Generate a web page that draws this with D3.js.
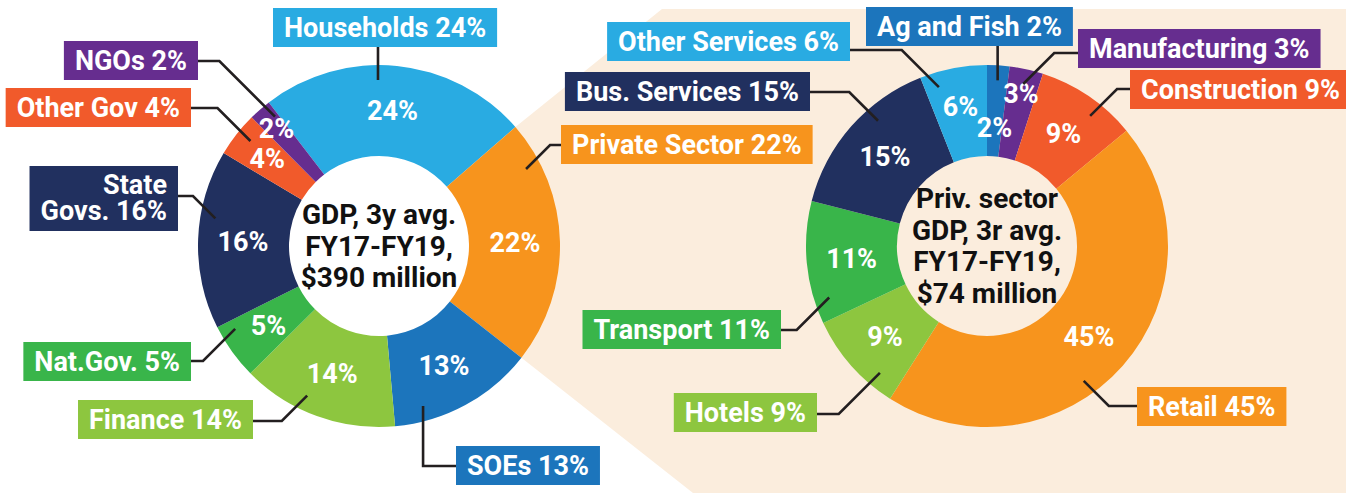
<!DOCTYPE html>
<html>
<head>
<meta charset="utf-8" />
<title>GDP by sector</title>
<script src="https://cdn.jsdelivr.net/npm/d3@7/dist/d3.min.js"></script>
<style>
  body { margin: 0; background: #ffffff; }
  text { font-family: Roboto, "Open Sans", sans-serif; font-weight: 700; }
</style>
</head>
<body>
<script>
// ---- data ----
var leftNames = ["Households", "Private Sector", "SOEs", "Finance", "Nat.Gov.", "State Govs.", "Other Gov", "NGOs"];
var leftValues = [24, 22, 13, 14, 5, 16, 4, 2];
var leftCenter = ["GDP, 3y avg.", "FY17-FY19,", "$390 million"];

var rightNames = ["Ag and Fish", "Manufacturing", "Construction", "Retail", "Hotels", "Transport", "Bus. Services", "Other Services"];
var rightValues = [2, 3, 9, 45, 9, 11, 15, 6];
var rightCenter = ["Priv. sector", "GDP, 3r avg.", "FY17-FY19,", "$74 million"];

// ---- colours ----
var lightBlue = "#29abe2", orange = "#f7941d", blue = "#1c75bc", lightGreen = "#8dc63f",
    green = "#39b54a", navy = "#21305f", red = "#f15a2b", purple = "#662d8f";
var leftColors = [lightBlue, orange, blue, lightGreen, green, navy, red, purple];
var rightColors = [blue, purple, red, orange, lightGreen, green, navy, lightBlue];

// ---- label layout (box edge x, box top, leader y, where in slice the leader ends) ----
var leftLayout = [
  {side: "top", x: 273, top: 8, t: 0.43},
  {side: "left", x: 561, top: 125, ly: 145, t: 0.17},
  {side: "left", x: 456, top: 446, ly: 466, t: 0.78, elbow: "vert"},
  {side: "right", x: 253, top: 400, ly: 421, t: 0.61},
  {side: "right", x: 191, top: 342, ly: 361, t: 0.82},
  {side: "right", x: 178, top: 166, ly: 196, t: 0.63, wrap: true},
  {side: "right", x: 191, top: 88, ly: 108, t: 0.58},
  {side: "right", x: 198, top: 41, ly: 61, t: 0.82}
];
var rightLayout = [
  {side: "top", x: 866, top: 7, t: 0.51},
  {side: "left", x: 1078, top: 29, ly: 53, t: 0.5},
  {side: "left", x: 1130, top: 70, ly: 89, t: 0.63},
  {side: "left", x: 1137, top: 387, ly: 406, t: 0.58},
  {side: "right", x: 817, top: 393, ly: 414, t: 0.24},
  {side: "right", x: 781, top: 310, ly: 330, t: 0.18},
  {side: "right", x: 810, top: 72, ly: 92, t: 0.64},
  {side: "right", x: 850, top: 22, ly: 50, t: 0.22}
];

var W = 1346, H = 493;
var outerR = 181, innerR = 90;
var fontSize = 27, pad = 11, boxH = 39;
var rad = function(deg) { return deg * Math.PI / 180; };

var svg = d3.select("body").append("svg")
  .attr("width", W).attr("height", H)
  .style("display", "block");

var left = {cx: 379, cy: 246, start: -37.5, names: leftNames, values: leftValues, colors: leftColors, layout: leftLayout, center: leftCenter};
var right = {cx: 987, cy: 246, start: 0, names: rightNames, values: rightValues, colors: rightColors, layout: rightLayout, center: rightCenter};

var makePie = function(c) {
  return d3.pie().sort(null).value(function(d) { return d; })
    .startAngle(rad(c.start)).endAngle(rad(c.start + 360))(c.values);
};
var leftArcs = makePie(left);
var rightArcs = makePie(right);

var polar = function(c, a, r) {
  return [c.cx + r * Math.sin(a), c.cy - r * Math.cos(a)];
};

// beige "zoom" panel behind the right donut, springing from the private sector slice
var priv = leftArcs[1];
var p1 = polar(left, priv.startAngle, outerR);
var p6 = polar(left, priv.endAngle, outerR);
svg.append("path")
  .attr("fill", "#fbeddd")
  .attr("d", d3.line()([p1, [662, 9], [W, 9], [W, H], [693, H], p6]));

var arc = d3.arc().innerRadius(innerR).outerRadius(outerR);

var drawDonut = function(c, arcs) {
  var g = svg.append("g");
  var slices = g.append("g").attr("transform", "translate(" + c.cx + "," + c.cy + ")");
  slices.selectAll("path").data(arcs).enter().append("path")
    .attr("d", arc)
    .attr("fill", function(d, i) { return c.colors[i]; });

  // percentages inside the ring
  var nv = c.values.length;
  slices.selectAll("text.pct").data(arcs).enter().append("text")
    .attr("class", "pct")
    .attr("text-anchor", "middle")
    .attr("fill", "#ffffff")
    .attr("font-size", fontSize)
    .attr("transform", function(d, i) {
      var next = c.values[(i + 1) % nv];
      var r = 136;
      if (d.data < 4) r = next < 4 ? 119 : 156;
      else if (next < 4) r = 142;
      var a = (d.startAngle + d.endAngle) / 2;
      return "translate(" + (r * Math.sin(a)) + "," + (-r * Math.cos(a) + fontSize * 0.355) + ")";
    })
    .text(function(d) { return d.data + "%"; });

  // centre text
  var n = c.center.length;
  g.selectAll("text.ctr").data(c.center).enter().append("text")
    .attr("class", "ctr")
    .attr("text-anchor", "middle")
    .attr("fill", "#111111")
    .attr("font-size", 28)
    .attr("x", c.cx)
    .attr("y", function(d, i) { return c.cy + (i - (n - 1) / 2) * 31.5 + 9.5; })
    .text(function(d) { return d; });

  // leaders and label boxes
  arcs.forEach(function(d, i) {
    var L = c.layout[i];
    var a = d.startAngle + L.t * (d.endAngle - d.startAngle);
    var E = polar(c, a, 166);
    var label = c.names[i] + " " + d.data + "%";
    var lines = L.wrap ? [label.slice(0, label.indexOf(" ")), label.slice(label.indexOf(" ") + 1)] : [label];
    var h = lines.length > 1 ? 65 : boxH;

    var lg = svg.append("g");
    var txt = lg.append("text")
      .attr("fill", "#ffffff")
      .attr("font-size", fontSize);
    var spans = txt.selectAll("tspan").data(lines).enter().append("tspan")
      .text(function(s) { return s; });
    var tw = d3.max(spans.nodes(), function(nd) { return nd.getComputedTextLength(); });
    var bw = tw + pad * 2;
    var bx = L.side === "right" ? L.x - bw : L.x;

    var pts;
    if (L.side === "top") {
      pts = [E, [E[0], L.top + h]];
    } else {
      var B;
      if (L.elbow === "vert") B = [E[0], L.ly];
      else {
        var s = L.x > E[0] ? 1 : -1;
        B = [E[0] + s * Math.abs(L.ly - E[1]), L.ly];
      }
      pts = [E, B, [L.x, L.ly]];
    }
    svg.insert("path", function() { return lg.node(); })
      .attr("fill", "none")
      .attr("stroke", "#231f20")
      .attr("stroke-width", 2.6)
      .attr("d", d3.line()(pts));

    lg.insert("rect", "text")
      .attr("x", bx).attr("y", L.top)
      .attr("width", bw).attr("height", h)
      .attr("fill", c.colors[i]);

    txt.attr("text-anchor", L.side === "right" ? "end" : "start");
    spans
      .attr("x", L.side === "right" ? bx + bw - pad : bx + pad)
      .attr("y", function(s, j) {
        return lines.length > 1 ? L.top + 28 + j * 26 : L.top + h / 2 + fontSize * 0.355;
      });
  });
};

drawDonut(left, leftArcs);
drawDonut(right, rightArcs);
</script>
</body>
</html>
